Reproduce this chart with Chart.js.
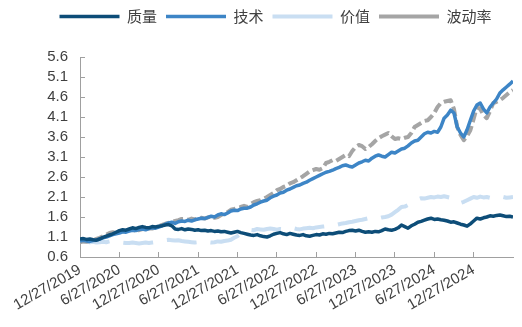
<!DOCTYPE html>
<html>
<head>
<meta charset="utf-8">
<script src="https://cdn.jsdelivr.net/npm/chart.js@4"></script>
<style>
html, body { margin: 0; padding: 0; background: #fff; }
</style>
</head>
<body>
<canvas id="chart" width="522" height="327"></canvas>
<script>
// x axis: one point every half month from 12/27/2019
const tickLabels = ['12/27/2019', '6/27/2020', '12/27/2020', '6/27/2021', '12/27/2021', '6/27/2022',
  '12/27/2022', '6/27/2023', '12/27/2023', '6/27/2024', '12/27/2024'];
const tickMonths = [0, 6, 12, 18, 24, 30, 36, 42, 48, 54, 60];
const yTicks = [0.6, 1.1, 1.6, 2.1, 2.6, 3.1, 3.6, 4.1, 4.6, 5.1, 5.6];

const quality = [
  1.05, 1.06, 1.04, 1.05, 1.03, 1.02, 1.05, 1.09, 1.12, 1.15,
  1.18, 1.22, 1.26, 1.28, 1.27, 1.30, 1.33, 1.31, 1.34, 1.36,
  1.34, 1.33, 1.36, 1.35, 1.37, 1.38, 1.40, 1.41, 1.38, 1.30,
  1.29, 1.31, 1.28, 1.30, 1.29, 1.27, 1.28, 1.26, 1.27, 1.25,
  1.26, 1.24, 1.25, 1.23, 1.24, 1.22, 1.20, 1.22, 1.24, 1.21,
  1.19, 1.17, 1.15, 1.14, 1.16, 1.13, 1.11, 1.10, 1.13, 1.17,
  1.19, 1.21, 1.18, 1.16, 1.19, 1.17, 1.15, 1.14, 1.16, 1.13,
  1.12, 1.14, 1.16, 1.15, 1.18, 1.17, 1.19, 1.18, 1.20, 1.22,
  1.21, 1.24, 1.26, 1.27, 1.25, 1.27, 1.24, 1.22, 1.23, 1.22,
  1.24, 1.23, 1.26, 1.30, 1.28, 1.27, 1.29, 1.33, 1.40, 1.36,
  1.32, 1.38, 1.42, 1.47, 1.49, 1.52, 1.55, 1.57, 1.54, 1.55,
  1.53, 1.52, 1.50, 1.47, 1.48, 1.45, 1.42, 1.40, 1.37, 1.43,
  1.50, 1.57, 1.55, 1.58, 1.60, 1.63, 1.62, 1.64, 1.65, 1.63,
  1.61, 1.62, 1.60
];
const tech = [
  1.00, 1.02, 1.00, 0.99, 1.01, 1.02, 1.05, 1.08, 1.10, 1.13,
  1.16, 1.18, 1.20, 1.23, 1.22, 1.25, 1.27, 1.26, 1.29, 1.30,
  1.28, 1.31, 1.33, 1.32, 1.35, 1.38, 1.42, 1.45, 1.47, 1.44,
  1.48, 1.50, 1.49, 1.52, 1.50, 1.53, 1.55, 1.57, 1.56, 1.59,
  1.62, 1.60, 1.65, 1.68, 1.66, 1.70, 1.75, 1.77, 1.76, 1.80,
  1.82, 1.82, 1.85, 1.90, 1.93, 1.97, 2.00, 2.02, 2.08, 2.12,
  2.15, 2.20, 2.22, 2.27, 2.30, 2.34, 2.38, 2.40, 2.44, 2.47,
  2.52, 2.56, 2.60, 2.64, 2.68, 2.72, 2.74, 2.77, 2.81, 2.84,
  2.88, 2.90, 2.87, 2.85, 2.90, 2.95, 2.98, 3.02, 3.00, 3.07,
  3.12, 3.15, 3.12, 3.10, 3.16, 3.22, 3.20, 3.25, 3.30, 3.32,
  3.38, 3.45, 3.50, 3.52, 3.60, 3.68, 3.72, 3.70, 3.74, 3.72,
  3.85, 4.07, 4.15, 4.27, 4.20, 3.85, 3.70, 3.60, 3.78, 4.02,
  4.25, 4.40, 4.45, 4.30, 4.20, 4.35, 4.45, 4.55, 4.70, 4.78,
  4.85, 4.92, 5.00
];
const value = [
  1.00, 0.98, 0.99, 0.97, 0.98, 0.96, 0.97, 0.98, 0.97, 0.99,
  0.98, 0.97, 0.98, 0.96, 0.95, 0.95, 0.96, 0.95, 0.94, 0.95,
  0.96, 0.95, 0.96, 0.97, 0.98, 1.00, 1.02, 1.03, 1.02, 1.01,
  1.02, 1.00, 0.99, 0.98, 0.97, 0.96, 0.97, 0.96, 0.98, 0.97,
  0.96, 0.97, 0.99, 0.98, 1.00, 1.01, 1.03, 1.08, 1.12, 1.18,
  1.22, 1.25, 1.28, 1.27, 1.30, 1.29, 1.28, 1.30, 1.31, 1.30,
  1.28, 1.30, 1.29, 1.31, 1.30, 1.32, 1.30, 1.29, 1.31, 1.32,
  1.33, 1.32, 1.34, 1.35, 1.36, 1.37, 1.39, 1.38, 1.40, 1.42,
  1.44, 1.45, 1.47, 1.48, 1.50, 1.52, 1.53, 1.55, 1.57, 1.56,
  1.58, 1.57, 1.59, 1.60, 1.62, 1.66, 1.72, 1.78, 1.85, 1.86,
  1.90, 1.94, 1.98, 2.04, 2.07, 2.06, 2.08, 2.10, 2.09, 2.11,
  2.10, 2.12, 2.10, 2.08, 2.02, 1.96, 1.95, 1.98, 2.02, 2.06,
  2.10, 2.08, 2.11, 2.09, 2.10, 2.08, 2.07, 2.10, 2.09, 2.10,
  2.08, 2.09, 2.10
];
const volatility = [
  0.97, 0.99, 0.98, 1.00, 1.02, 1.05, 1.08, 1.12, 1.16, 1.20,
  1.22, 1.20, 1.23, 1.25, 1.24, 1.27, 1.25, 1.28, 1.27, 1.30,
  1.29, 1.32, 1.31, 1.34, 1.37, 1.40, 1.43, 1.45, 1.48, 1.50,
  1.52, 1.55, 1.55, 1.53, 1.56, 1.54, 1.57, 1.58, 1.56, 1.59,
  1.61, 1.58, 1.60, 1.65, 1.70, 1.72, 1.78, 1.80, 1.83, 1.85,
  1.88, 1.85, 1.92, 1.97, 2.00, 2.02, 2.06, 2.10, 2.15, 2.20,
  2.27, 2.30, 2.35, 2.38, 2.44, 2.47, 2.52, 2.57, 2.62, 2.68,
  2.74, 2.77, 2.80, 2.78, 2.82, 2.95, 2.98, 3.02, 3.00, 3.05,
  3.10, 3.15, 3.12, 3.25, 3.35, 3.40, 3.37, 3.30, 3.35, 3.42,
  3.50, 3.57, 3.62, 3.66, 3.70, 3.62, 3.55, 3.57, 3.55, 3.58,
  3.60, 3.70, 3.85, 3.90, 3.95, 4.00, 4.02, 4.10, 4.20, 4.35,
  4.45, 4.48, 4.50, 4.52, 4.30, 3.85, 3.65, 3.52, 3.62, 3.77,
  4.05, 4.35, 4.30, 4.15, 4.07, 4.25, 4.45, 4.48, 4.52, 4.58,
  4.65, 4.72, 4.77
];

// point i sits at i/2 months after the first date
function toPoints(arr) {
  return arr.map((v, i) => ({ x: i / 2, y: v }));
}

// push the plot down below the legend
const legendSpace = {
  id: 'legendSpace',
  beforeInit(chart) {
    const fit = chart.legend.fit;
    chart.legend.fit = function () {
      fit.call(this);
      this.height = 57;
    };
  }
};

const axisColor = '#a0a0a0';
const textColor = '#404040';

new Chart(document.getElementById('chart'), {
  type: 'line',
  data: {
    datasets: [
      { label: '质量', data: toPoints(quality), borderColor: '#0d4d78', borderWidth: 3.5, order: 1 },
      { label: '技术', data: toPoints(tech), borderColor: '#3d85c6', borderWidth: 3.5, order: 2 },
      { label: '价值', data: toPoints(value), borderColor: '#c9def2', borderWidth: 4, borderDash: [30, 14], order: 4 },
      { label: '波动率', data: toPoints(volatility), borderColor: '#a5a5a5', borderWidth: 4, borderDash: [10, 4], order: 3 }
    ]
  },
  options: {
    responsive: false,
    animation: false,
    devicePixelRatio: 1,
    layout: { padding: { left: 38, right: 9, top: 0, bottom: 0 } },
    elements: {
      point: { radius: 0 },
      line: { tension: 0, borderJoinStyle: 'round' }
    },
    plugins: {
      tooltip: { enabled: false },
      legend: {
        position: 'top',
        labels: {
          usePointStyle: true,
          pointStyle: 'line',
          pointStyleWidth: 60,
          padding: 9,
          color: textColor,
          font: { family: 'Noto Sans CJK SC', size: 15 },
          sort: (a, b) => a.datasetIndex - b.datasetIndex
        }
      }
    },
    scales: {
      x: {
        type: 'linear',
        min: 0,
        max: 66,
        afterBuildTicks: s => { s.ticks = tickMonths.map(v => ({ value: v })); },
        afterFit: s => { s.height = 70; },
        grid: { drawOnChartArea: false, tickLength: -5, color: axisColor },
        border: { color: axisColor },
        ticks: {
          autoSkip: false,
          maxRotation: 30,
          minRotation: 30,
          padding: 9,
          color: textColor,
          font: { family: 'Liberation Sans', size: 15 },
          callback: v => tickLabels[tickMonths.indexOf(v)]
        }
      },
      y: {
        min: 0.6,
        max: 5.6,
        afterBuildTicks: s => { s.ticks = yTicks.map(v => ({ value: v })); },
        afterFit: s => { s.width = 42; },
        grid: { drawOnChartArea: false, tickLength: -5, color: axisColor },
        border: { color: axisColor },
        ticks: {
          autoSkip: false,
          padding: 17,
          color: textColor,
          font: { family: 'Liberation Sans', size: 15 },
          callback: v => v.toFixed(1)
        }
      }
    }
  },
  plugins: [legendSpace]
});
</script>
</body>
</html>
